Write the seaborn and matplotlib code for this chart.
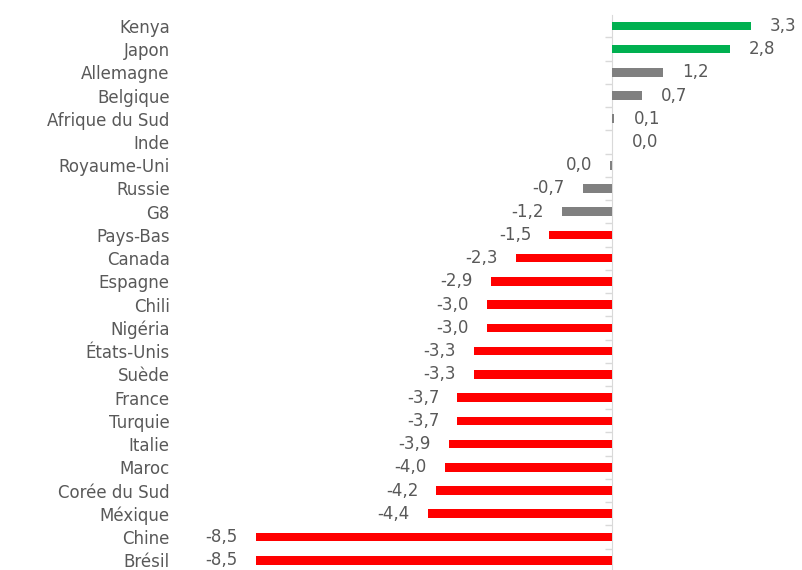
import pandas as pd
import numpy as np
import matplotlib.pyplot as plt
import seaborn as sns

# Donnees
pays = ['Kenya', 'Japon', 'Allemagne', 'Belgique', 'Afrique du Sud', 'Inde',
        'Royaume-Uni', 'Russie', 'G8', 'Pays-Bas', 'Canada', 'Espagne', 'Chili',
        'Nigéria', 'États-Unis', 'Suède', 'France', 'Turquie', 'Italie', 'Maroc',
        'Corée du Sud', 'Méxique', 'Chine', 'Brésil']
valeurs = [3.3, 2.8, 1.2, 0.7, 0.05, 0.0, -0.049, -0.7, -1.2, -1.5, -2.3, -2.9, -3.0,
           -3.0, -3.3, -3.3, -3.7, -3.7, -3.9, -4.0, -4.2, -4.4, -8.5, -8.5]
groupe = ['haut'] * 2 + ['moyen'] * 7 + ['bas'] * 15

couleurs = {'haut': '#00B050', 'moyen': '#808080', 'bas': '#FF0000'}
gris_texte = '#595959'

df = pd.DataFrame({'pays': pays, 'valeur': valeurs, 'groupe': groupe})

sns.set_style('white')
plt.rcParams['font.family'] = ['DejaVu Sans']

fig = plt.figure(figsize=(8.02, 5.70), dpi=100)
ax = fig.add_axes([0.222, 0.0, 0.77, 0.973])

sns.barplot(data=df, x='valeur', y='pays', hue='groupe', palette=couleurs,
            orient='h', width=0.37, legend=False, dodge=False, saturation=1,
            linewidth=0, ax=ax)

ax.set_xlim(-10.36, 4.37)
ax.set_ylim(23.42, -0.45)
ax.set_xlabel('')
ax.set_ylabel('')
ax.set_xticks([])
for s in ax.spines.values():
    s.set_visible(False)
ax.tick_params(axis='y', length=0, pad=6, labelsize=12, labelcolor=gris_texte)

# axe vertical a zero avec petites graduations entre les categories
axe0 = ax.secondary_yaxis(0, transform=ax.transData)
axe0.set_yticks(np.arange(-0.5, len(pays), 1))
axe0.set_yticklabels([])
axe0.tick_params(axis='y', length=5, width=1, color='#D9D9D9', direction='out')
axe0.spines['left'].set_color('#D9D9D9')

# etiquettes de valeurs
for i, v in enumerate(valeurs):
    txt = f'{abs(v):.1f}'.replace('.', ',')
    if round(v, 1) < 0:
        txt = '-' + txt
    if v >= 0:
        ax.annotate(txt, (v, i), xytext=(14, 0), textcoords='offset points',
                    ha='left', va='center', fontsize=12, color=gris_texte)
    else:
        ax.annotate(txt, (v, i), xytext=(-13, 0), textcoords='offset points',
                    ha='right', va='center', fontsize=12, color=gris_texte)

fig.savefig('out.png', dpi=100)
